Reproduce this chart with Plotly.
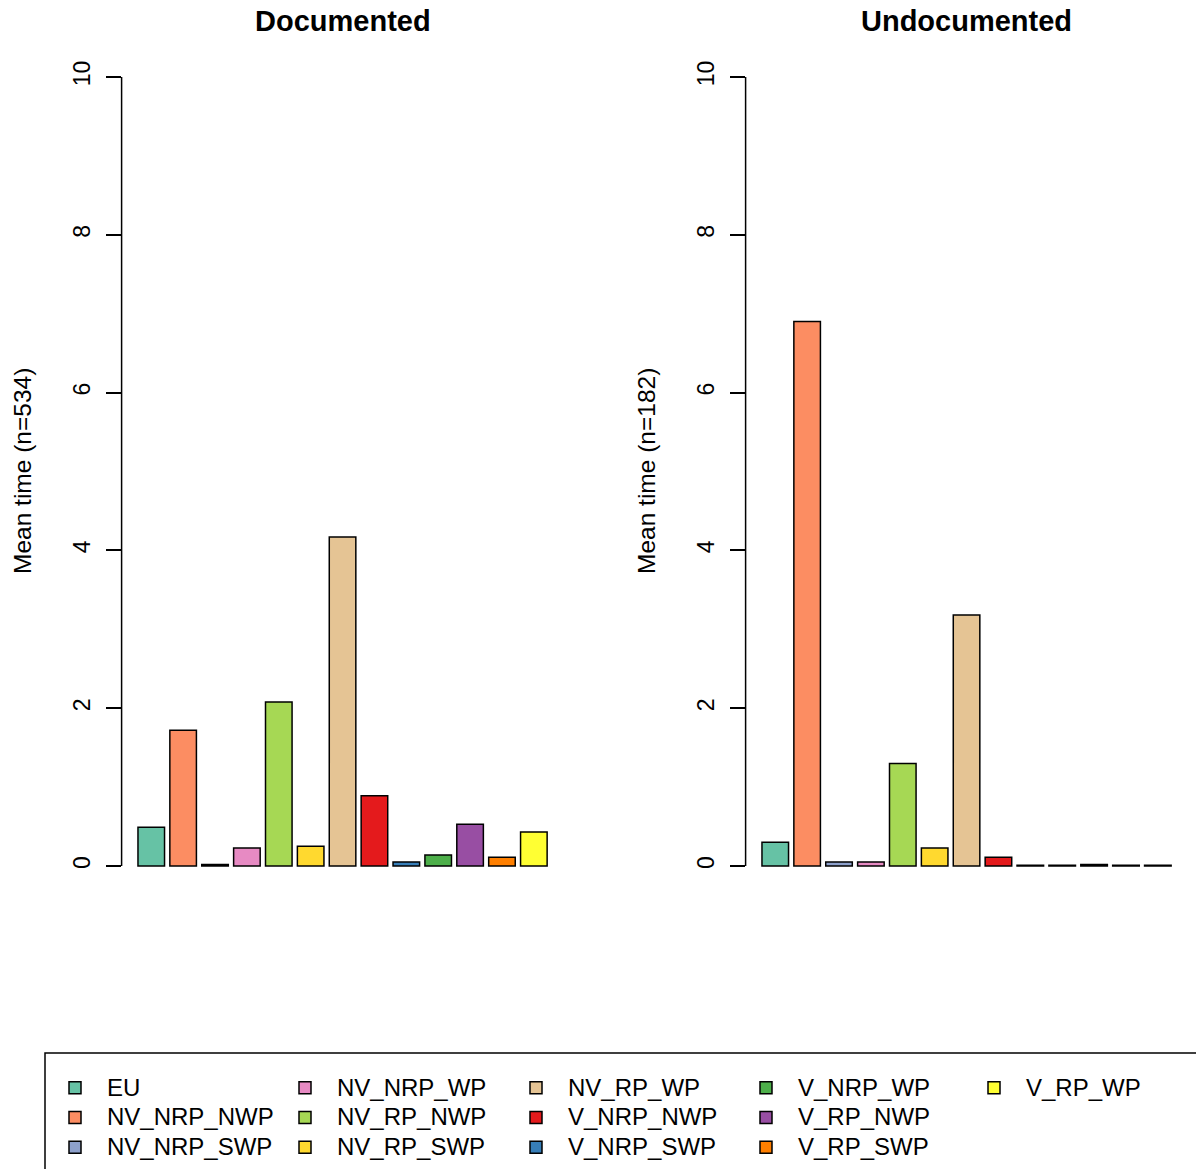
import plotly.graph_objects as go

categories = ["EU", "NV_NRP_NWP", "NV_NRP_SWP", "NV_NRP_WP", "NV_RP_NWP", "NV_RP_SWP",
              "NV_RP_WP", "V_NRP_NWP", "V_NRP_SWP", "V_NRP_WP", "V_RP_NWP", "V_RP_SWP", "V_RP_WP"]
documented = [0.49, 1.72, 0.02, 0.23, 2.08, 0.25, 4.17, 0.89, 0.05, 0.14, 0.53, 0.11, 0.43]
undocumented = [0.30, 6.90, 0.05, 0.05, 1.30, 0.23, 3.18, 0.11, 0.01, 0.01, 0.02, 0.01, 0.01]
colors = ["#66C2A5", "#FC8D62", "#8DA0CB", "#E78AC3", "#A6D854", "#FFD92F", "#E5C494",
          "#E41A1C", "#377EB8", "#4DAF4A", "#984EA3", "#FF7F00", "#FFFF33"]
panel_titles = ["Documented", "Undocumented"]
y_titles = ["Mean time (n=534)", "Mean time (n=182)"]
y_ticks = [0, 2, 4, 6, 8, 10]

W, H = 1196, 1169
FONT = "Liberation Sans, Arial, sans-serif"

fig = go.Figure()

# legend layout: column-major, 3 rows
nrows = 3
legend_names = ["legend", "legend2", "legend3", "legend4", "legend5"]

for panel, vals in enumerate([documented, undocumented]):
    xa = "x" if panel == 0 else "x2"
    ya = "y" if panel == 0 else "y2"
    for i, (c, v, col) in enumerate(zip(categories, vals, colors)):
        fig.add_trace(go.Bar(
            x=[c], y=[v], xaxis=xa, yaxis=ya,
            name="<span style='font-size:24px'>%s</span>" % c,
            marker=dict(color=col, line=dict(color="black", width=1.5)),
            showlegend=(panel == 0),
            legend=legend_names[i // nrows],
        ))

# plot regions (pixels -> paper)
x_doms = [(121.6 / W, 563.5 / W), (745.6 / W, 1187.5 / W)]
y_dom = (1 - 897.6 / H, 1 - 45.4 / H)

common_x = dict(type="category", categoryorder="array", categoryarray=categories,
                range=[-0.93, 12.93], showticklabels=False, showline=False,
                showgrid=False, zeroline=False, ticks="")
common_y = dict(range=[-0.4, 10.4], tickvals=y_ticks, ticktext=[str(t) for t in y_ticks],
                tickangle=-90, ticks="outside", ticklen=15, tickwidth=1.5, tickcolor="black",
                showline=False, showgrid=False, zeroline=False,
                tickfont=dict(family=FONT, size=23, color="black"), ticklabelstandoff=6)

fig.update_layout(
    xaxis=dict(domain=x_doms[0], anchor="y", **common_x),
    xaxis2=dict(domain=x_doms[1], anchor="y2", **common_x),
    yaxis=dict(domain=y_dom, anchor="x", **common_y),
    yaxis2=dict(domain=y_dom, anchor="x2", **common_y),
)

shapes = []
annotations = []
for panel in range(2):
    xd = "x domain" if panel == 0 else "x2 domain"
    yr = "y" if panel == 0 else "y2"
    shapes.append(dict(type="line", xref=xd, yref=yr, x0=0, x1=0, y0=y_ticks[0], y1=y_ticks[-1],
                       line=dict(color="black", width=1.5)))
    annotations.append(dict(text="<b>%s</b>" % panel_titles[panel], xref=xd, yref="paper",
                            x=0.5, y=1 - 21 / H, xanchor="center", yanchor="middle",
                            showarrow=False, font=dict(family=FONT, size=29, color="black")))
    annotations.append(dict(text=y_titles[panel], xref="paper", yref="paper",
                            x=(22.5 + 624 * panel) / W, y=1 - 471.5 / H, textangle=-90,
                            xanchor="center", yanchor="middle", showarrow=False,
                            font=dict(family=FONT, size=24.5, color="black")))

# legend frame
shapes.append(dict(type="rect", xref="paper", yref="paper", x0=45 / W, x1=1.02,
                   y0=-0.02, y1=1 - 1053 / H, line=dict(color="black", width=1.5)))

col_x = [43, 273, 504, 734, 962]
leg_common = dict(orientation="v", xanchor="left", yanchor="top", y=1 - 1068 / H,
                  font=dict(family=FONT, size=20.5, color="black"), bgcolor="rgba(0,0,0,0)",
                  borderwidth=0, tracegroupgap=0, itemwidth=54)
legends = {}
for k, name in enumerate(legend_names):
    legends[name] = dict(x=col_x[k] / W, **leg_common)

fig.update_layout(
    width=W, height=H, margin=dict(l=0, r=0, t=0, b=0, autoexpand=False),
    paper_bgcolor="white", plot_bgcolor="white",
    barmode="relative", bargap=0.1667,
    shapes=shapes, annotations=annotations,
    font=dict(family=FONT, color="black"),
    **legends,
)

fig.write_html("out.html")
